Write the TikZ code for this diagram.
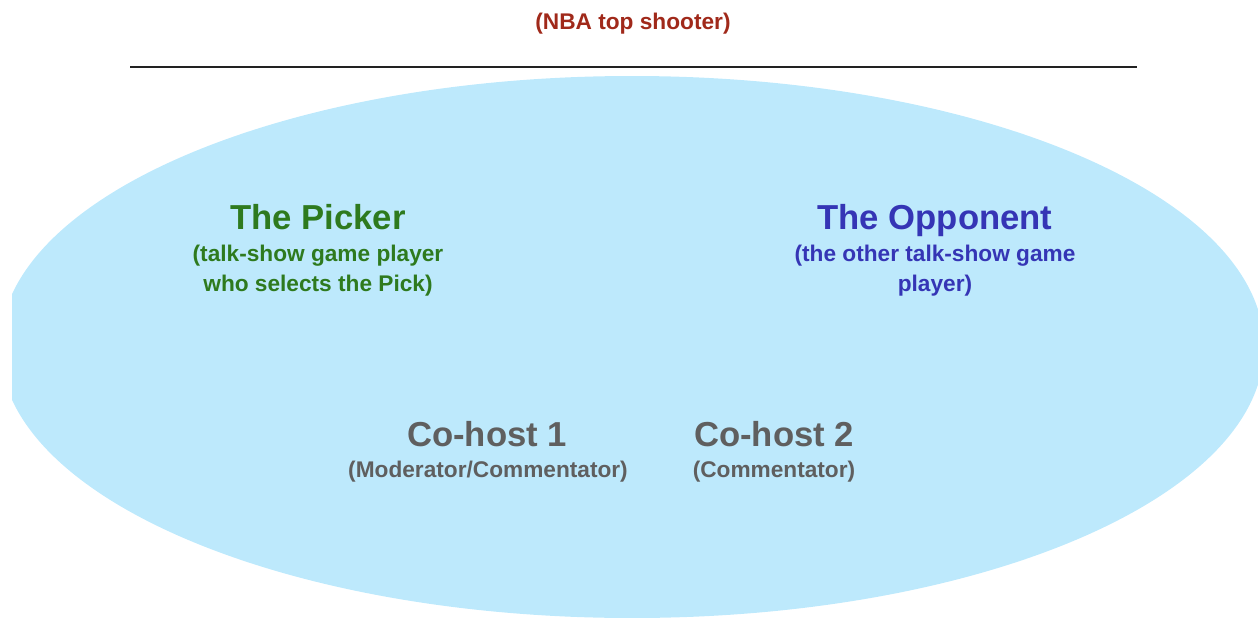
\documentclass[tikz,border=0pt]{standalone}
\usepackage{fontspec}
\setmainfont{Liberation Sans}
\definecolor{ellfill}{HTML}{BDE9FC}
\definecolor{pickgreen}{HTML}{2E7A1E}
\definecolor{oppblue}{HTML}{3535B5}
\definecolor{hostgray}{HTML}{5F5F5F}
\definecolor{nbared}{HTML}{A0291A}
\definecolor{rulegray}{HTML}{222222}
\tikzset{
  lbl/.style={inner sep=0pt, anchor=base, font=\bfseries\fontsize{17}{20}\selectfont},
  head/.style={inner sep=0pt, anchor=base, font=\bfseries\fontsize{26}{30}\selectfont},
}
\begin{document}
\begin{tikzpicture}[x=0.75pt,y=-0.75pt]
\useasboundingbox (0,0) rectangle (1258,618);
\begin{scope}
  \clip (12,0) rectangle (1258,618);
  \fill[ellfill] (632,347) ellipse [x radius=632, y radius=271];
\end{scope}
\draw[rulegray, line width=1.2pt] (130,67) -- (1137,67);
\node[lbl, text=nbared] (nba) at (633,29) {(NBA top shooter)};
\node[head, text=pickgreen] (picker) at (318,229) {The Picker};
\node[lbl, text=pickgreen] (pickerA) at (318,261) {(talk-show game player};
\node[lbl, text=pickgreen] (pickerB) at (318,291) {who selects the Pick)};
\node[head, text=oppblue] (opp) at (935,229) {The Opponent};
\node[lbl, text=oppblue] (oppA) at (935,261) {(the other talk-show game};
\node[lbl, text=oppblue] (oppB) at (935,291) {player)};
\node[head, text=hostgray] (host1) at (487,446) {Co-host 1};
\node[lbl, text=hostgray] (host1A) at (488,477) {(Moderator/Commentator)};
\node[head, text=hostgray] (host2) at (774,446) {Co-host 2};
\node[lbl, text=hostgray] (host2A) at (774,477) {(Commentator)};
\end{tikzpicture}
\end{document}
